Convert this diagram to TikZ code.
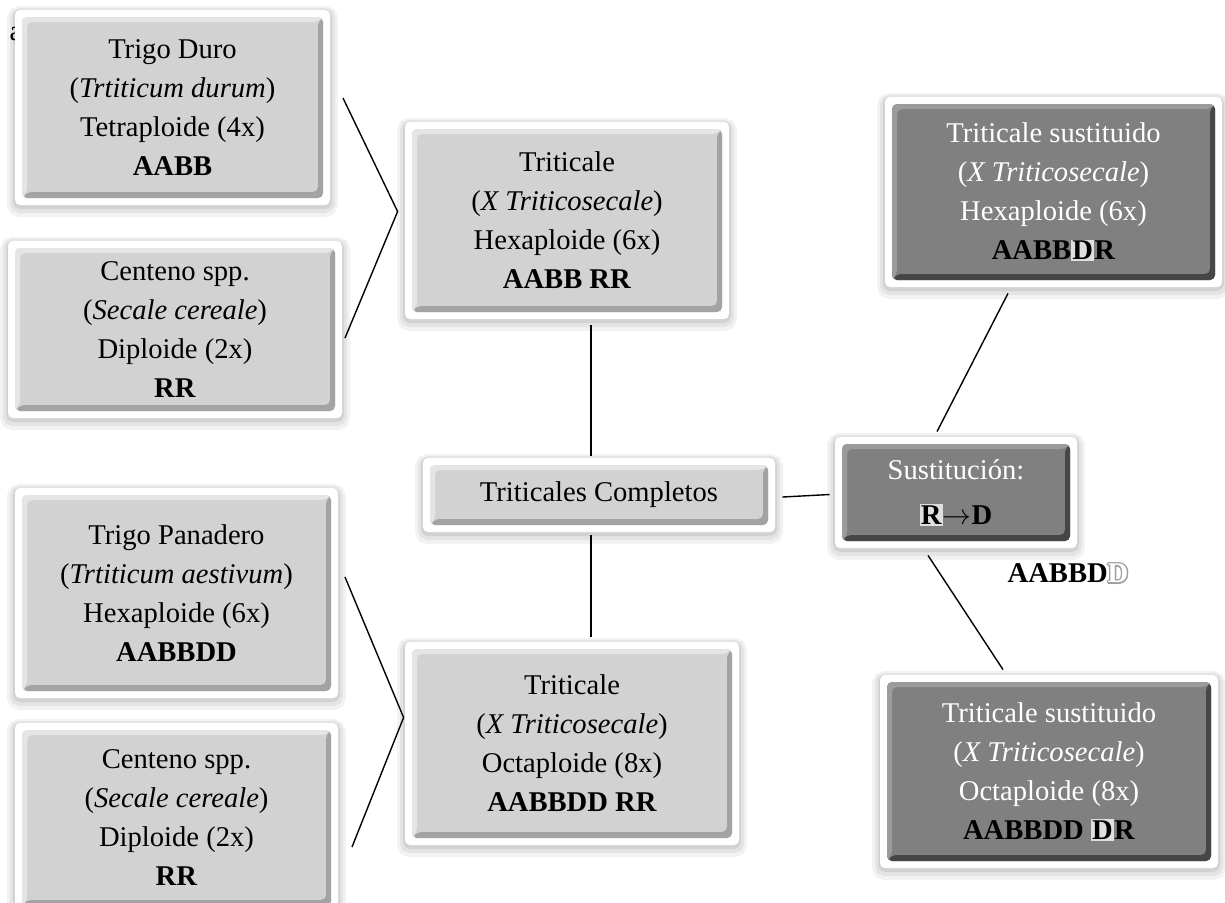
\documentclass[tikz,border=0pt]{standalone}
\usepackage{fontspec}
\setmainfont{Liberation Serif}
\usepackage{contour}
\usetikzlibrary{calc}

\contourlength{0.7pt}
\contournumber{12}
% relleno interior con bisel (base, borde oscuro, borde claro)
\newcommand{\bisel}[3]{%
  \coordinate (bsw) at ([shift={(3.5pt,3.5pt)}]path picture bounding box.south west);
  \coordinate (bne) at ([shift={(-3.5pt,-3.5pt)}]path picture bounding box.north east);
  \coordinate (bse) at (bne |- bsw);
  \coordinate (bnw) at (bsw |- bne);
  \fill[#1] (bsw) rectangle (bne);
  \fill[#2] (bsw) -- (bse) -- (bne) -- ([shift={(-2.5pt,-2.5pt)}]bne) -- ([shift={(-2.5pt,3pt)}]bse) -- ([shift={(2.5pt,3pt)}]bsw) -- cycle;
  \fill[#3] (bsw) -- (bnw) -- (bne) -- ([shift={(-2.5pt,-2.5pt)}]bne) -- ([shift={(2.5pt,-2.5pt)}]bnw) -- ([shift={(2.5pt,3pt)}]bsw) -- cycle;}
\newcommand{\brillo}[1]{{\fboxsep=0.6pt\colorbox{gray!25}{\textcolor{black}{#1}}}}

\begin{document}
\begin{tikzpicture}[x=0.5pt,y=-0.5pt,
    caja/.style={rectangle, rounded corners=2.5pt, fill=white, inner sep=0pt,
      align=center, font=\fontsize{14.3}{19.5}\selectfont,
      preaction={draw=black, draw opacity=0.05, line width=8pt, transform canvas={yshift=-2pt}},
      preaction={draw=black, draw opacity=0.06, line width=5pt, transform canvas={yshift=-1.5pt}},
      preaction={draw=black, draw opacity=0.08, line width=2pt, transform canvas={yshift=-1pt}},
      path picture={\bisel{gray!35}{gray!72}{gray!20}}},
    cajaoscura/.style={caja, text=white, path picture={\bisel{gray}{gray!55!black}{gray!78}}},
    linea/.style={line width=0.7pt}]
    \useasboundingbox (0,0) rectangle (1225,902);
    \node (marca) at (16,34) {\fontsize{14.3}{19.5}\selectfont a};
    \node[caja, minimum width=157.5pt, minimum height=97.5pt] (duro) at (172.5,107.5)
        {Trigo Duro\\(\textit{Trtiticum durum})\\Tetraploide (4x)\\\textbf{AABB}};
    \node[caja, minimum width=167pt, minimum height=88.5pt] (centenoA) at (175,329.5)
        {Centeno spp.\\(\textit{Secale cereale})\\Diploide (2x)\\\textbf{RR}};
    \node[caja, minimum width=161.5pt, minimum height=105pt] (panadero) at (176.5,593)
        {Trigo Panadero\\(\textit{Trtiticum aestivum})\\Hexaploide (6x)\\\textbf{AABBDD}};
    \node[caja, minimum width=161.5pt, minimum height=95pt] (centenoB) at (176.5,818)
        {Centeno spp.\\(\textit{Secale cereale})\\Diploide (2x)\\\textbf{RR}};
    \node[caja, minimum width=162pt, minimum height=98.5pt] (hexa) at (567,220.5)
        {Triticale\\(\textit{X Triticosecale})\\Hexaploide (6x)\\\textbf{AABB RR}};
    \node[caja, minimum width=176pt, minimum height=37pt] (completos) at (599,495)
        {Triticales Completos};
    \node[caja, minimum width=167pt, minimum height=101.5pt] (octa) at (572,743.5)
        {Triticale\\(\textit{X Triticosecale})\\Octaploide (8x)\\\textbf{AABBDD RR}};
    \node[cajaoscura, minimum width=121pt, minimum height=55.5pt] (susti) at (956,492.5)
        {Sustitución:\\[3pt]\color{black}\brillo{\textbf{R}}$\rightarrow$\textbf{D}};
    \node[cajaoscura, minimum width=168.5pt, minimum height=95pt] (sustHexa) at (1053.5,192)
        {Triticale sustituido\\(\textit{X Triticosecale})\\Hexaploide (6x)\\\color{black}\textbf{AABB}\brillo{\textbf{D}}\textbf{R}};
    \node[cajaoscura, minimum width=169pt, minimum height=96.5pt] (sustOcta) at (1049,771.5)
        {Triticale sustituido\\(\textit{X Triticosecale})\\Octaploide (8x)\\\color{black}\textbf{AABBDD }\brillo{\textbf{D}}\textbf{R}};
    \node[font=\fontsize{14.3}{19.5}\selectfont\bfseries] (genoma) at (1068,574)
        {AABBD{\color{white}\contour{gray!75}{D}}};
    \coordinate (eje) at (591,0);
    \coordinate (llaveA1) at (343,98);
    \coordinate (llaveA2) at (345,338);
    \coordinate (llaveB1) at (345,577);
    \coordinate (llaveB2) at (352,847);
    \draw[linea] (llaveA1) -- ([shift={(-3.5pt,4.5pt)}]hexa.west) -- (llaveA2);
    \draw[linea] (llaveB1) -- ([shift={(-0.5pt,13pt)}]octa.west) -- (llaveB2);
    \draw[linea] ([yshift=-3pt]hexa.south -| eje) -- ([yshift=1pt]completos.north -| eje);
    \draw[linea] ([yshift=-1.5pt]completos.south -| eje) -- ([yshift=2.5pt]octa.north -| eje);
    \draw[linea] ([shift={(3.5pt,-1pt)}]completos.east) -- ([shift={(-2.5pt,-1pt)}]susti.west);
    \draw[linea] ([shift={(-9.5pt,2.5pt)}]susti.north) -- ([shift={(-22.75pt,-3pt)}]sustHexa.south);
    \draw[linea] ([shift={(-14pt,-3.5pt)}]susti.south) -- ([shift={(-23pt,2.5pt)}]sustOcta.north);
\end{tikzpicture}
\end{document}
